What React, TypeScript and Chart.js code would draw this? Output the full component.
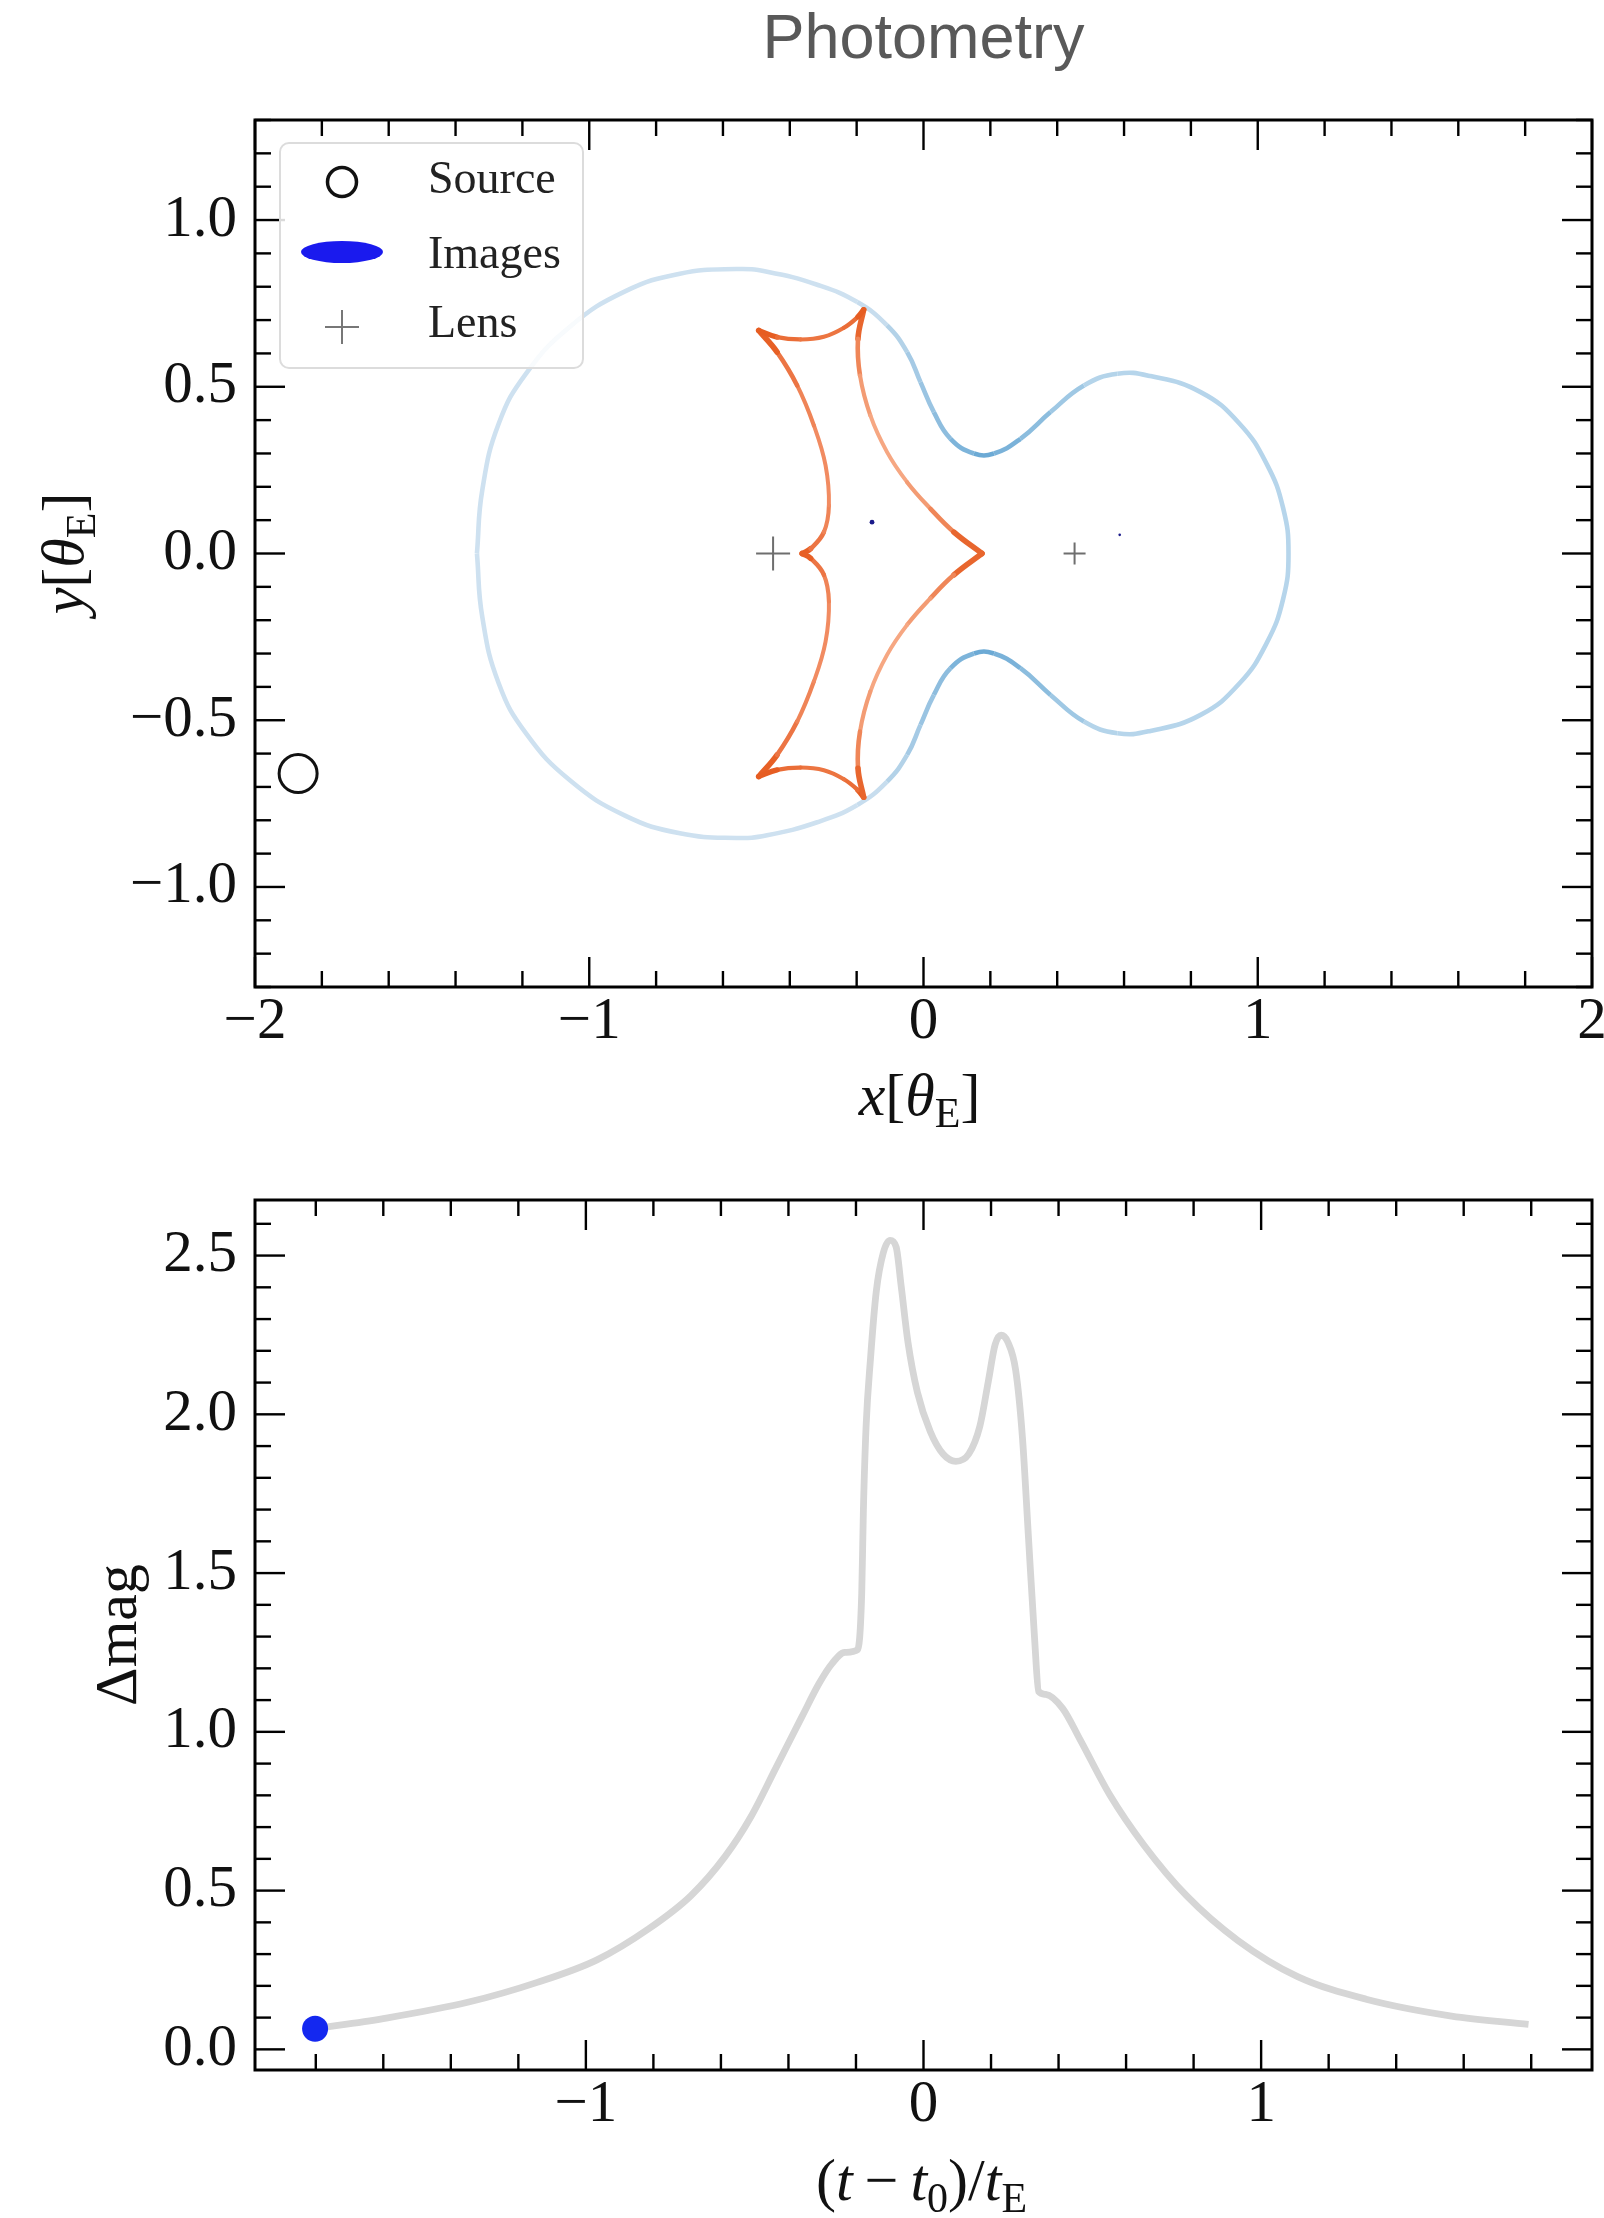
import React, { useEffect, useRef } from 'react';
import { Chart, registerables } from 'chart.js';
Chart.register(...registerables);

// ---------------- data ----------------
// critical curve (closed loop), upper half left->right then lower half right->left
const critX = [
  -1.336, -1.320, -1.271, -1.188, -1.057, -0.893, -0.729, -0.560, -0.468, -0.318, -0.198, -0.109, -0.049, -0.009,
  0.031, 0.081, 0.151, 0.211, 0.290, 0.380, 0.480, 0.580, 0.679, 0.829, 0.945, 1.027, 1.076, 1.092,
  1.076, 1.027, 0.945, 0.829, 0.679, 0.580, 0.480, 0.380, 0.290, 0.211, 0.151, 0.081, 0.031,
  -0.009, -0.049, -0.109, -0.198, -0.318, -0.468, -0.560, -0.729, -0.893, -1.057, -1.188, -1.271, -1.320, -1.336,
];
const critY = [
  0.000, 0.190, 0.389, 0.541, 0.681, 0.786, 0.839, 0.853, 0.845, 0.806, 0.754, 0.684, 0.604, 0.514,
  0.424, 0.344, 0.300, 0.300, 0.344, 0.424, 0.504, 0.539, 0.532, 0.484, 0.390, 0.268, 0.136, 0.000,
  -0.136, -0.268, -0.390, -0.484, -0.532, -0.539, -0.504, -0.424, -0.344, -0.300, -0.300, -0.344, -0.424,
  -0.514, -0.604, -0.684, -0.754, -0.806, -0.845, -0.853, -0.839, -0.786, -0.681, -0.541, -0.389, -0.190, 0.000,
];

// caustic (closed loop through its six cusps)
const causticX = [
  -0.493, -0.438, -0.368, -0.298, -0.238, -0.196, -0.179,
  -0.196, -0.190, -0.159, -0.109, -0.049, 0.021, 0.091, 0.175,
  0.091, 0.021, -0.049, -0.109, -0.159, -0.190, -0.196, -0.179,
  -0.196, -0.238, -0.298, -0.368, -0.438, -0.493,
  -0.438, -0.378, -0.328, -0.293, -0.283, -0.298, -0.338, -0.363,
  -0.338, -0.298, -0.283, -0.293, -0.328, -0.378, -0.438, -0.493,
];
const causticY = [
  0.669, 0.649, 0.642, 0.650, 0.677, 0.710, 0.731,
  0.644, 0.534, 0.414, 0.304, 0.214, 0.134, 0.064, 0.000,
  -0.064, -0.134, -0.214, -0.304, -0.414, -0.534, -0.644, -0.731,
  -0.710, -0.677, -0.650, -0.642, -0.649, -0.669,
  -0.604, -0.504, -0.384, -0.264, -0.144, -0.064, -0.014, 0.000,
  0.014, 0.064, 0.144, 0.264, 0.384, 0.504, 0.604, 0.669,
];
const causticCusps = [0, 6, 14, 22, 28, 36, 44];

const lensX = [-0.450, 0.452];
const lensY = [0.0, 0.0];
const sourceX = [-1.871];
const sourceY = [-0.660];
const imageX = [-0.154, 0.587];
const imageY = [0.094, 0.056];

// light curve
const lcT = [
  -1.802, -1.600, -1.347, -1.144, -0.967, -0.815, -0.689, -0.588, -0.512, -0.436, -0.360, -0.309, -0.271, -0.233,
  -0.195, -0.183, -0.178, -0.170, -0.157, -0.140, -0.119, -0.099, -0.081, -0.066, -0.046, -0.018, 0.020, 0.058,
  0.096, 0.134, 0.167, 0.192, 0.212, 0.230, 0.250, 0.273, 0.293, 0.311, 0.329, 0.341, 0.362, 0.412, 0.463, 0.552,
  0.653, 0.779, 0.931, 1.108, 1.311, 1.564, 1.792,
];
const lcMag = [
  0.065, 0.097, 0.149, 0.211, 0.282, 0.379, 0.484, 0.607, 0.731, 0.889, 1.048, 1.153, 1.215, 1.250,
  1.259, 1.435, 1.699, 1.963, 2.175, 2.386, 2.509, 2.548, 2.527, 2.403, 2.227, 2.069, 1.946, 1.875,
  1.852, 1.875, 1.963, 2.104, 2.219, 2.249, 2.227, 2.139, 1.928, 1.611, 1.294, 1.127, 1.118, 1.074, 0.977, 0.801,
  0.643, 0.484, 0.343, 0.229, 0.158, 0.105, 0.079,
];
const nowT = [-1.802];
const nowMag = [0.065];

const legendLabels = ['Source', 'Images', 'Lens'];

// ---------------- helpers ----------------
const SERIF = '"Liberation Serif", "Times New Roman", serif';
const SANS = '"Liberation Sans", Arial, Helvetica, sans-serif';
const pts = (xs: number[], ys: number[]) => xs.map((x, i) => ({ x, y: ys[i] }));
const mix = (a: number[], b: number[], t: number) =>
  `rgb(${a.map((v, i) => Math.round(v + (b[i] - v) * t)).join(',')})`;
const fmtMinus = (s: string) => s.replace('-', '\u2212');

const CRIT_LEFT = [206, 225, 240];
const CRIT_RIGHT = [182, 213, 235];
const CRIT_DARK = [108, 170, 213];
function critColor(x: number) {
  const s = Math.max(0, 1 - Math.abs(x - 0.18) / 0.36);
  return mix(x < 0.18 ? CRIT_LEFT : CRIT_RIGHT, CRIT_DARK, s);
}
const CAUSTIC_DARK = [228, 82, 20];
const foldLight = [
  [236, 118, 66],
  [246, 168, 132],
  [246, 168, 132],
  [236, 118, 66],
  [241, 140, 98],
  [241, 140, 98],
];

type Seg = { t?: string; it?: boolean; sub?: boolean; gap?: number };
function drawMath(ctx: CanvasRenderingContext2D, segs: Seg[], cx: number, cy: number, size: number, rot: boolean) {
  ctx.save();
  const fontFor = (s: Seg) => `${s.it ? 'italic ' : ''}${s.sub ? Math.round(size * 0.7) : size}px ${SERIF}`;
  let w = 0;
  for (const s of segs) {
    if (s.gap) { w += s.gap; continue; }
    ctx.font = fontFor(s);
    w += ctx.measureText(s.t || '').width;
  }
  ctx.translate(cx, cy);
  if (rot) ctx.rotate(-Math.PI / 2);
  ctx.textAlign = 'left';
  ctx.textBaseline = 'alphabetic';
  ctx.fillStyle = '#111';
  let x = -w / 2;
  const base = size * 0.25;
  for (const s of segs) {
    if (s.gap) { x += s.gap; continue; }
    ctx.font = fontFor(s);
    ctx.fillText(s.t || '', x, s.sub ? base + size * 0.2 : base);
    x += ctx.measureText(s.t || '').width;
  }
  ctx.restore();
}

const frameTicks = {
  id: 'frameTicks',
  afterDatasetsDraw(chart: any, _a: any, opts: any) {
    const { ctx, chartArea: ca, scales } = chart;
    const xs = scales.x, ys = scales.y;
    const vals = (scale: any, step: number) => {
      const out: number[] = [];
      const s = Math.ceil(scale.min / step - 1e-6), e = Math.floor(scale.max / step + 1e-6);
      for (let k = s; k <= e; k++) out.push(k * step);
      return out;
    };
    const isMaj = (v: number, arr: number[]) => arr.some((m) => Math.abs(m - v) < 1e-6);
    const majX = xs.ticks.map((t: any) => t.value);
    const majY = ys.ticks.map((t: any) => t.value);
    ctx.save();
    ctx.strokeStyle = '#000';
    ctx.lineWidth = 2.4;
    const seg = (x1: number, y1: number, x2: number, y2: number) => {
      ctx.beginPath(); ctx.moveTo(x1, y1); ctx.lineTo(x2, y2); ctx.stroke();
    };
    for (const v of vals(xs, opts.xMinor)) {
      const p = xs.getPixelForValue(v);
      const len = isMaj(v, majX) ? 30 : 16;
      seg(p, ca.bottom, p, ca.bottom - len);
      seg(p, ca.top, p, ca.top + len);
    }
    for (const v of vals(ys, opts.yMinor)) {
      const p = ys.getPixelForValue(v);
      const len = isMaj(v, majY) ? 30 : 16;
      seg(ca.left, p, ca.left + len, p);
      seg(ca.right, p, ca.right - len, p);
    }
    ctx.lineWidth = 3;
    ctx.strokeRect(ca.left, ca.top, ca.right - ca.left, ca.bottom - ca.top);
    ctx.restore();
  },
};

const axisTitles = {
  id: 'axisTitles',
  afterDraw(chart: any, _a: any, opts: any) {
    const { ctx, chartArea: ca } = chart;
    const mx = (ca.left + ca.right) / 2, my = (ca.top + ca.bottom) / 2;
    drawMath(ctx, opts.x, mx + opts.xdx, ca.bottom + opts.xdy, opts.size, false);
    drawMath(ctx, opts.y, ca.left - opts.ydx, my, opts.size, true);
  },
};

const legendBox = {
  id: 'legendBox',
  afterDraw(chart: any) {
    const { ctx, chartArea: ca } = chart;
    const L = ca.left + 25, T = ca.top + 23, W = 303, H = 225, r = 9;
    ctx.save();
    ctx.beginPath();
    ctx.moveTo(L + r, T);
    ctx.arcTo(L + W, T, L + W, T + H, r);
    ctx.arcTo(L + W, T + H, L, T + H, r);
    ctx.arcTo(L, T + H, L, T, r);
    ctx.arcTo(L, T, L + W, T, r);
    ctx.closePath();
    ctx.fillStyle = 'rgba(255,255,255,0.85)';
    ctx.fill();
    ctx.strokeStyle = '#dcdcdc';
    ctx.lineWidth = 2;
    ctx.stroke();
    const mxp = L + 62;
    ctx.beginPath();
    ctx.arc(mxp, T + 39, 14.5, 0, Math.PI * 2);
    ctx.strokeStyle = '#111'; ctx.lineWidth = 3.5; ctx.stroke();
    ctx.beginPath();
    ctx.ellipse(mxp, T + 109, 41, 11, 0, 0, Math.PI * 2);
    ctx.fillStyle = '#1a1aee'; ctx.fill();
    ctx.strokeStyle = '#777'; ctx.lineWidth = 2;
    ctx.beginPath(); ctx.moveTo(mxp - 17, T + 184); ctx.lineTo(mxp + 17, T + 184); ctx.stroke();
    ctx.beginPath(); ctx.moveTo(mxp, T + 167); ctx.lineTo(mxp, T + 201); ctx.stroke();
    ctx.fillStyle = '#222';
    ctx.font = `46px ${SERIF}`;
    ctx.textAlign = 'left'; ctx.textBaseline = 'alphabetic';
    const bl = [50, 125, 194];
    legendLabels.forEach((t, i) => ctx.fillText(t, L + 148, T + bl[i]));
    ctx.restore();
  },
};

const tickFont = { family: SERIF, size: 59 };
const axisBase = (min: number, max: number, step: number, dec: number, fitH?: number, fitW?: number) => ({
  type: 'linear' as const,
  min, max,
  grid: { display: false, drawTicks: false, tickLength: 0 },
  border: { display: false },
  ticks: {
    stepSize: step,
    includeBounds: false,
    autoSkip: false,
    maxRotation: 0,
    padding: fitH !== undefined ? 0 : 18,
    font: tickFont,
    color: '#111',
    callback: (v: any) => fmtMinus(Number(v).toFixed(dec)),
  },
  afterFit: (s: any) => {
    if (fitH !== undefined) s.height = fitH;
    if (fitW !== undefined) s.width = fitW;
    s.paddingLeft = 0; s.paddingRight = 0; s.paddingTop = 0; s.paddingBottom = 0;
  },
});

function topConfig(): any {
  const foldSets = causticCusps.slice(0, -1).map((start, f) => {
    const end = causticCusps[f + 1];
    const n = end - start;
    const u = (c: any) => Math.abs(((c.p0DataIndex + c.p1DataIndex) / n) - 1);
    return {
      data: pts(causticX.slice(start, end + 1), causticY.slice(start, end + 1)),
      showLine: true,
      pointRadius: 0,
      borderWidth: 4.2,
      tension: 0.4,
      borderCapStyle: 'round',
      borderColor: mix(foldLight[f], CAUSTIC_DARK, 0.5),
      segment: {
        borderColor: (c: any) => mix(foldLight[f], CAUSTIC_DARK, Math.pow(u(c), 2)),
        borderWidth: (c: any) => 4 + 2.4 * Math.pow(u(c), 3),
      },
    };
  });
  return {
    type: 'scatter',
    data: {
      datasets: [
        { data: pts(sourceX, sourceY), pointRadius: 19, pointBorderWidth: 3, pointBorderColor: '#111', pointBackgroundColor: 'rgba(0,0,0,0)' },
        { data: pts(imageX, imageY), pointRadius: [2.4, 1.3], pointBorderWidth: 0, pointBackgroundColor: '#1b1b8a' },
        { data: pts(lensX, lensY), pointStyle: 'cross', pointRadius: [17, 11], pointBorderWidth: 2, pointBorderColor: '#6e6e6e' },
        ...foldSets,
        {
          data: pts(critX, critY),
          showLine: true,
          pointRadius: 0,
          borderWidth: 4.6,
          tension: 0.45,
          borderColor: 'rgb(200,222,238)',
          segment: {
            borderColor: (c: any) => critColor((critX[c.p0DataIndex] + critX[c.p1DataIndex]) / 2),
          },
        },
      ],
    },
    options: {
      responsive: false,
      animation: false,
      events: [],
      layout: { padding: { left: 0, right: 48, top: 0, bottom: 0 } },
      scales: {
        x: axisBase(-2, 2, 1, 0, 173, undefined),
        y: axisBase(-1.3, 1.3, 0.5, 1, undefined, 255),
      },
      plugins: {
        legend: { display: false },
        tooltip: { enabled: false },
        title: {
          display: true,
          text: 'Photometry',
          fullSize: false,
          color: '#595959',
          font: { family: SANS, size: 63, weight: 'normal', lineHeight: 1.2 },
          padding: { top: 3, bottom: 41.4 },
        },
        frameTicks: { xMinor: 0.2, yMinor: 0.1 },
        axisTitles: {
          size: 60,
          xdx: -4, xdy: 113, ydx: 187,
          x: [{ t: 'x', it: true }, { t: '[' }, { t: '\u03b8', it: true }, { t: 'E', sub: true }, { t: ']' }],
          y: [{ t: 'y', it: true }, { t: '[' }, { t: '\u03b8', it: true }, { t: 'E', sub: true }, { t: ']' }],
        },
      },
    },
    plugins: [frameTicks, axisTitles, legendBox],
  };
}

function bottomConfig(): any {
  return {
    type: 'scatter',
    data: {
      datasets: [
        { data: pts(nowT, nowMag), pointRadius: 13, pointBorderWidth: 0, pointBackgroundColor: '#1428f0' },
        {
          data: pts(lcT, lcMag),
          showLine: true,
          pointRadius: 0,
          borderWidth: 6.8,
          borderColor: '#d6d6d6',
          cubicInterpolationMode: 'monotone',
        },
      ],
    },
    options: {
      responsive: false,
      animation: false,
      events: [],
      layout: { padding: { left: 0, right: 48, top: 40, bottom: 0 } },
      scales: {
        x: axisBase(-1.98, 1.98, 1, 0, 148, undefined),
        y: axisBase(-0.065, 2.675, 0.5, 1, undefined, 255),
      },
      plugins: {
        legend: { display: false },
        tooltip: { enabled: false },
        frameTicks: { xMinor: 0.2, yMinor: 0.1 },
        axisTitles: {
          size: 60,
          xdx: -2, xdy: 115, ydx: 134,
          x: [
            { t: '(' }, { t: 't', it: true }, { gap: 12 }, { t: '\u2212' }, { gap: 12 }, { t: 't', it: true },
            { t: '0', sub: true }, { t: ')/' }, { t: 't', it: true }, { t: 'E', sub: true },
          ],
          y: [{ t: '\u0394mag' }],
        },
      },
    },
    plugins: [frameTicks, axisTitles],
  };
}

export default function App() {
  const topRef = useRef<HTMLCanvasElement>(null);
  const botRef = useRef<HTMLCanvasElement>(null);
  useEffect(() => {
    const c1 = new Chart(topRef.current as HTMLCanvasElement, topConfig());
    const c2 = new Chart(botRef.current as HTMLCanvasElement, bottomConfig());
    return () => {
      c1.destroy();
      c2.destroy();
    };
  }, []);
  return (
    <div style={{ position: 'absolute', left: 0, top: 0, width: 1604, height: 2218, background: '#fff', overflow: 'hidden' }}>
      <canvas ref={topRef} width={1640} height={1160} style={{ position: 'absolute', left: 0, top: 0, width: 1640, height: 1160 }} />
      <canvas ref={botRef} width={1640} height={1058} style={{ position: 'absolute', left: 0, top: 1160, width: 1640, height: 1058 }} />
    </div>
  );
}
